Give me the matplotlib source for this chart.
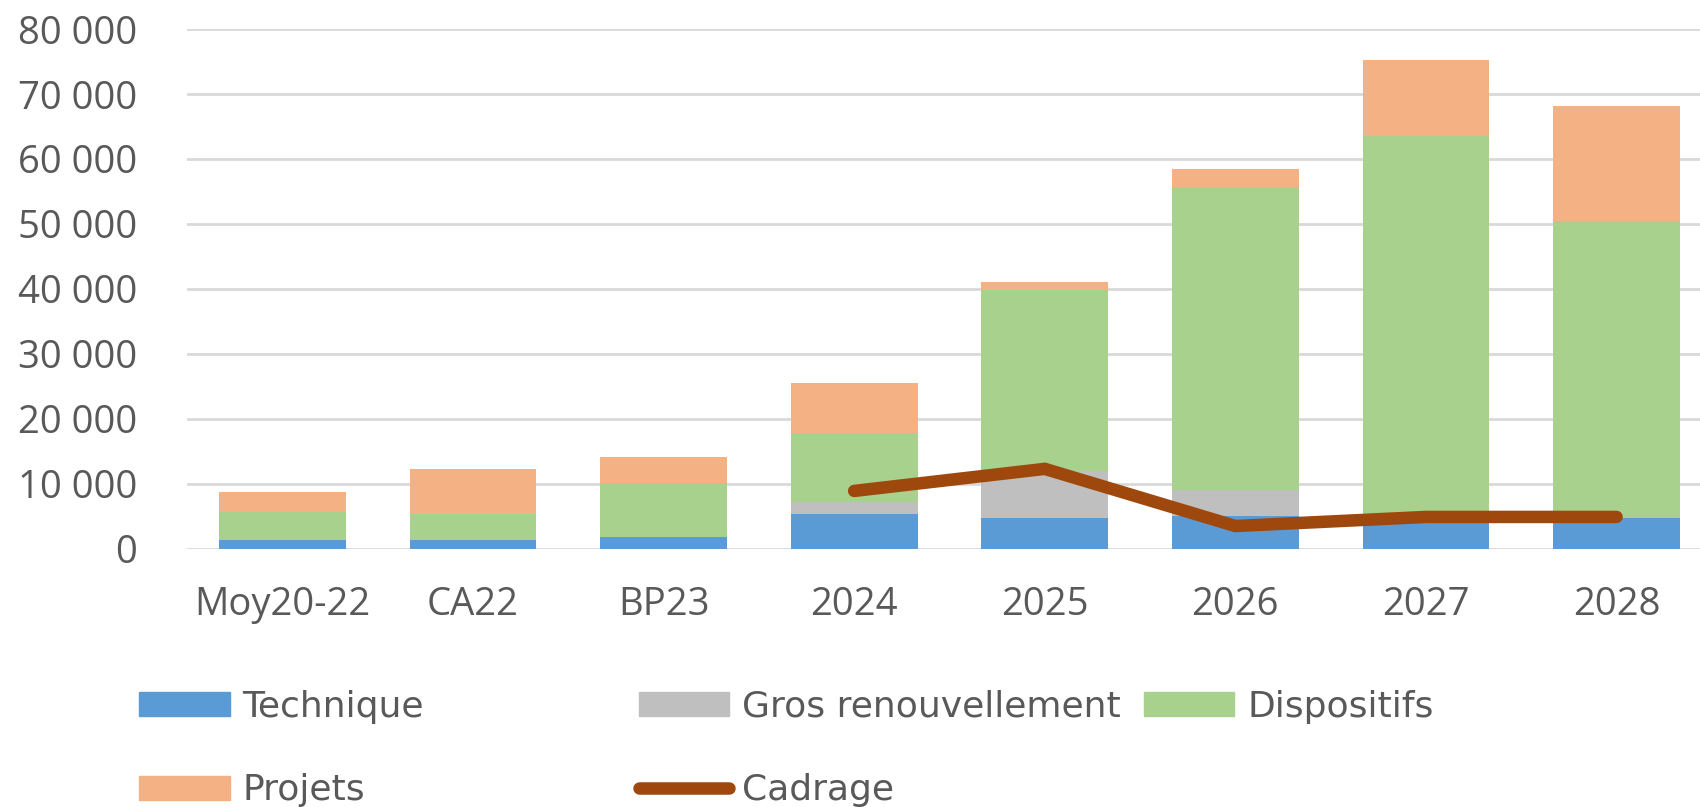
import numpy as np
import matplotlib.pyplot as plt
from matplotlib.ticker import FuncFormatter
from matplotlib.lines import Line2D
from matplotlib.patches import Patch

categories = ["Moy20-22", "CA22", "BP23", "2024", "2025", "2026", "2027", "2028"]
technique = [1400, 1400, 1850, 5400, 4750, 5000, 4900, 4800]
gros_renouv = [0, 0, 0, 1800, 7150, 4000, 0, 0]
dispositifs = [4300, 4000, 8300, 10600, 27900, 46600, 58600, 45700]
projets = [3000, 6950, 4000, 7700, 1200, 2900, 11800, 17700]
cadrage = [np.nan, np.nan, np.nan, 8900, 12300, 3500, 4900, 4900]

c_tech = "#5B9BD5"
c_gros = "#BFBFBF"
c_disp = "#A9D18E"
c_proj = "#F4B183"
c_cad = "#9E480E"
txt = "#595959"

plt.rcParams['font.family'] = ['Open Sans', 'DejaVu Sans']

fig = plt.figure(figsize=(17, 8.07), dpi=100)
# plot area runs a little past the right edge, like the original
ax = fig.add_axes([0.110, 0.320, 0.897, 0.644])

x = np.arange(len(categories))
w = 0.665
b1 = np.array(technique)
b2 = b1 + np.array(gros_renouv)
b3 = b2 + np.array(dispositifs)
ax.bar(x, technique, w, color=c_tech, zorder=2)
ax.bar(x, gros_renouv, w, bottom=b1, color=c_gros, zorder=2)
ax.bar(x, dispositifs, w, bottom=b2, color=c_disp, zorder=2)
ax.bar(x, projets, w, bottom=b3, color=c_proj, zorder=2)
ax.plot(x, cadrage, color=c_cad, lw=9, solid_capstyle='round',
        solid_joinstyle='miter', zorder=3)

ax.set_xlim(-0.5, len(categories) - 0.5)
ax.set_ylim(0, 80000)
ax.set_yticks(np.arange(0, 80001, 10000))
ax.yaxis.set_major_formatter(FuncFormatter(lambda v, p: f"{int(v):,}".replace(",", " ")))
ax.set_xticks(x)
ax.set_xticklabels(categories)
ax.grid(axis='y', color="#D9D9D9", lw=2, zorder=0)
for s in ax.spines.values():
    s.set_visible(False)
ax.tick_params(axis='both', length=0, labelsize=27.5, colors=txt)
ax.tick_params(axis='x', pad=27)
ax.tick_params(axis='y', pad=36)

leg_font = {'family': ['Liberation Sans Narrow', 'DejaVu Sans'], 'size': 26}
cols = [
    ([Patch(color=c_tech), Patch(color=c_proj)], ["Technique", "Projets"], 0.082),
    ([Patch(color=c_gros), Line2D([], [], color=c_cad, lw=9, solid_capstyle='round')],
     ["Gros renouvellement", "Cadrage"], 0.376),
    ([Patch(color=c_disp)], ["Dispositifs"], 0.673),
]
for handles, labels, xpos in cols:
    leg = fig.legend(handles, labels, loc='upper left', bbox_to_anchor=(xpos, 0.145),
                     frameon=False, prop=leg_font, borderpad=0, borderaxespad=0,
                     handlelength=2.5, handleheight=0.65, handletextpad=0.35,
                     labelspacing=1.37, labelcolor=txt)

fig.savefig("out.png", dpi=100)
